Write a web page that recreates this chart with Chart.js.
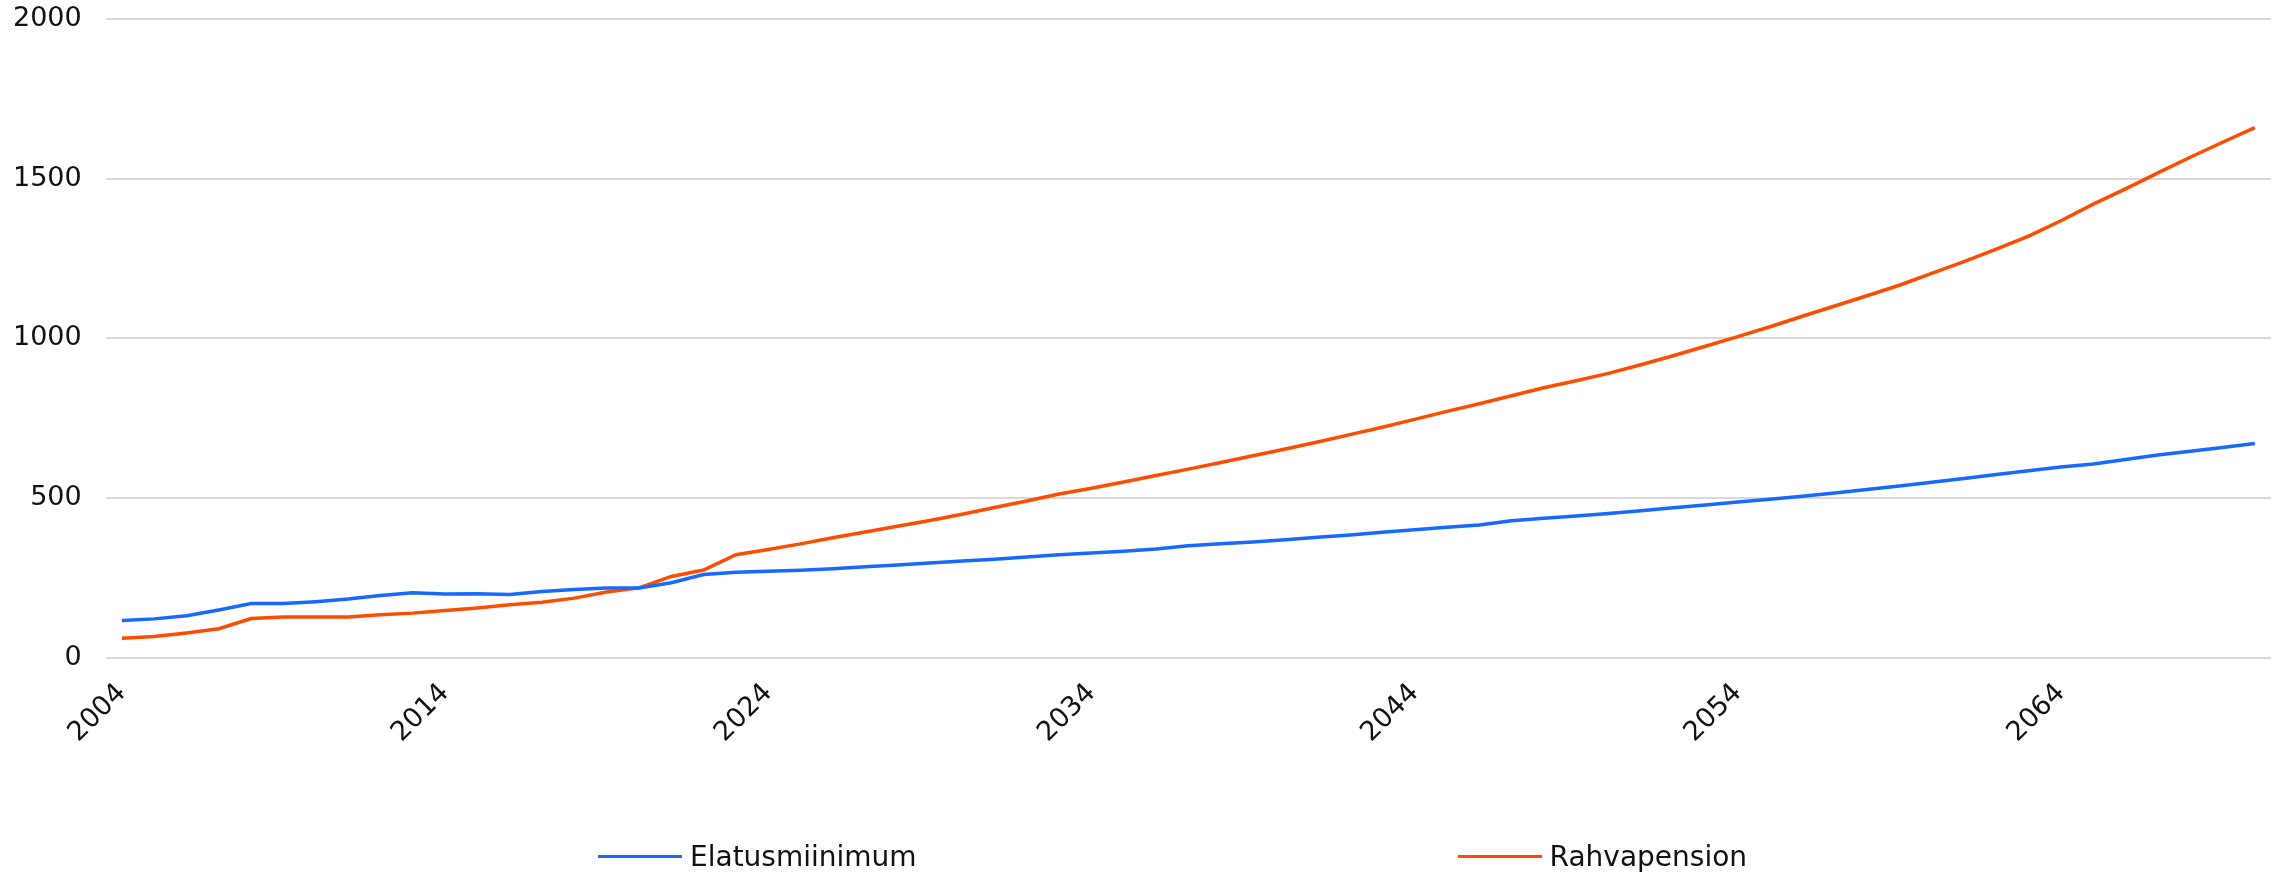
<!DOCTYPE html>
<html>
<head>
<meta charset="utf-8">
<script src="https://cdn.jsdelivr.net/npm/chart.js@4/dist/chart.umd.min.js"></script>
<style>
  html, body { margin: 0; background: #fff; }
  #wrap { position: relative; width: 2292px; height: 876px; }
  #legend { position: absolute; left: 598px; top: 840px; display: flex; gap: 541px;
            font: 28px "DejaVu Sans", sans-serif; color: #111; }
  .legend-item { display: flex; align-items: center; }
  .legend-line { width: 84px; height: 3px; margin-right: 8px; }
</style>
</head>
<body>
<div id="wrap">
  <canvas id="pension-chart" width="2292" height="876"></canvas>
  <div id="legend"></div>
</div>
<script>
const years = [
  2004, 2005, 2006, 2007, 2008, 2009, 2010, 2011, 2012, 2013,
  2014, 2015, 2016, 2017, 2018, 2019, 2020, 2021, 2022, 2023,
  2024, 2025, 2026, 2027, 2028, 2029, 2030, 2031, 2032, 2033,
  2034, 2035, 2036, 2037, 2038, 2039, 2040, 2041, 2042, 2043,
  2044, 2045, 2046, 2047, 2048, 2049, 2050, 2051, 2052, 2053,
  2054, 2055, 2056, 2057, 2058, 2059, 2060, 2061, 2062, 2063,
  2064, 2065, 2066, 2067, 2068, 2069, 2070
]

const elatusmiinimum = [
  116, 121, 131, 149, 169, 169, 175, 183, 194, 203,
  199, 200, 197, 207, 213, 218, 218, 234, 260, 267,
  270, 273, 278, 284, 290, 296, 302, 308, 315, 322,
  327, 333, 340, 350, 356, 362, 369, 377, 384, 392,
  400, 408, 415, 428, 436, 443, 451, 460, 469, 478,
  487, 496, 505, 515, 526, 537, 549, 561, 573, 585,
  597, 606, 620, 634, 646, 658, 670
]

const rahvapension = [
  60, 66, 77, 90, 122, 127, 127, 127, 134, 139,
  147, 155, 165, 173, 186, 205, 218, 254, 274, 322,
  338, 356, 375, 393, 411, 429, 449, 470, 490, 512,
  530, 550, 570, 590, 611, 632, 653, 675, 698, 721,
  746, 771, 795, 820, 845, 867, 890, 917, 945, 975,
  1005, 1036, 1069, 1101, 1133, 1166, 1203, 1240, 1279, 1320,
  1368, 1420, 1468, 1518, 1567, 1614, 1660
]

const seriesNames = ['Elatusmiinimum', 'Rahvapension']
const seriesColors = ['#1769ff', '#ff4d00']
const yTicks = [0, 500, 1000, 1500, 2000]

const axisFont = { family: 'DejaVu Sans', size: 27 }

const config = {
  type: 'line',
  data: {
    labels: years.map(String),
    datasets: [elatusmiinimum, rahvapension].map((values, i) => ({
      label: seriesNames[i],
      data: values,
      borderColor: seriesColors[i],
      backgroundColor: seriesColors[i],
      borderWidth: 3.5,
      pointRadius: 0,
      tension: 0
    }))
  },
  options: {
    responsive: false,
    animation: false,
    layout: { padding: { left: 13, right: 21, top: 19, bottom: 107 } },
    plugins: {
      legend: { display: false },
      tooltip: { enabled: false }
    },
    scales: {
      x: {
        offset: true,
        grid: { display: false, drawTicks: false },
        border: { display: false },
        ticks: {
          autoSkip: false,
          minRotation: 45,
          maxRotation: 45,
          padding: 20,
          color: '#111',
          font: axisFont,
          // only every tenth year gets a label
          callback: (val, idx) => (years[idx] - years[0]) % 10 === 0 ? String(years[idx]) : null
        }
      },
      y: {
        min: yTicks[0],
        max: yTicks[yTicks.length - 1],
        // invisible tick marks keep the gap between labels and plot
        grid: { color: '#d9d9d9', lineWidth: 2, drawTicks: true, tickLength: 24, tickColor: 'rgba(0,0,0,0)' },
        border: { display: false },
        ticks: {
          stepSize: 500,
          padding: 0,
          color: '#111',
          font: axisFont,
          callback: v => String(v)
        }
      }
    }
  }
}

const chart = new Chart(document.getElementById('pension-chart'), config)

// html legend built from the chart's datasets
const legendWrap = document.getElementById('legend')
chart.data.datasets.forEach(ds => {
  const item = document.createElement('div')
  item.className = 'legend-item'
  const line = document.createElement('span')
  line.className = 'legend-line'
  line.style.background = ds.borderColor
  const text = document.createElement('span')
  text.textContent = ds.label
  item.appendChild(line)
  item.appendChild(text)
  legendWrap.appendChild(item)
})
</script>
</body>
</html>
